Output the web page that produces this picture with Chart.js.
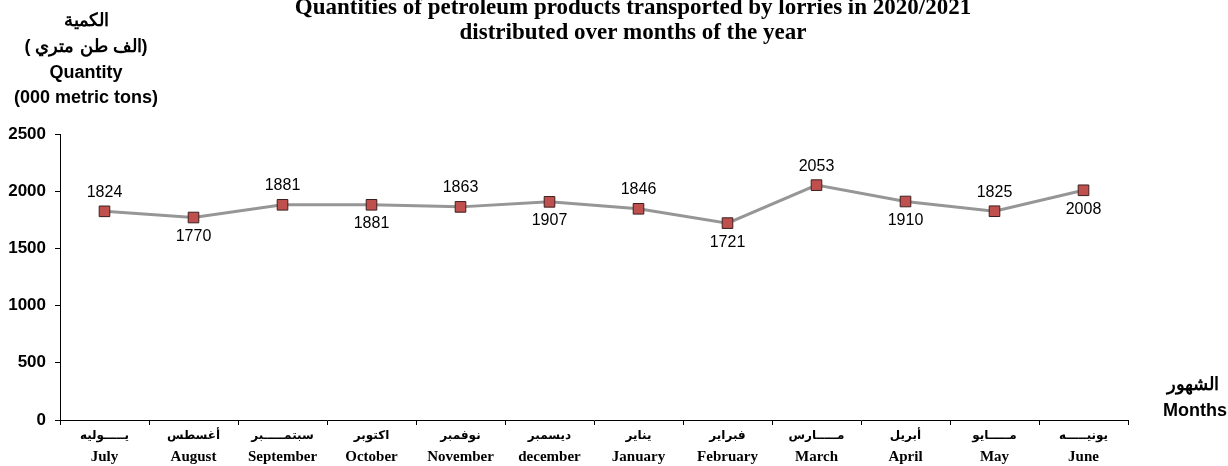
<!DOCTYPE html>
<html>
<head>
<meta charset="utf-8">
<script src="https://cdn.jsdelivr.net/npm/chart.js@4.4.1/dist/chart.umd.min.js"></script>
<style>
  html, body { margin: 0; padding: 0; background: #fff; }
  #wrap { width: 1228px; height: 466px; }
</style>
</head>
<body>
<div id="wrap"><canvas id="chart" width="1228" height="466"></canvas></div>
<script>
// Datos del gráfico
const monthsEn = ['July', 'August', 'September', 'October', 'November', 'december',
    'January', 'February', 'March', 'April', 'May', 'June'];
const monthsAr = ['يـــــوليه', 'أغسطس', 'سبتمـــــبر', 'اكتوبر', 'نوفمبر', 'ديسمبر',
    'يناير', 'فبراير', 'مـــــارس', 'أبريل', 'مـــــايو', 'يونيـــــه'];
const quantities = [1824, 1770, 1881, 1881, 1863, 1907, 1846, 1721, 2053, 1910, 1825, 2008];
const labelAbove = [true, false, true, false, true, false, true, false, true, false, true, false];
const yTicks = [0, 500, 1000, 1500, 2000, 2500];

const titleLines = ['Quantities of petroleum products transported by lorries in 2020/2021',
    'distributed over months of the year'];
const yTitleLines = ['الكمية', '( الف طن متري)', 'Quantity', '(000 metric tons)'];
const xTitleLines = ['الشهور', 'Months'];

// Textos extra: títulos, etiquetas de meses y valores
const textPlugin = {
    id: 'texts',
    afterDraw(chart) {
        const ctx = chart.ctx;
        const x = chart.scales.x;
        const meta = chart.getDatasetMeta(0);
        ctx.save();
        ctx.fillStyle = '#000';
        ctx.textAlign = 'center';
        ctx.textBaseline = 'middle';

        ctx.font = 'bold 23px "Liberation Serif"';
        ctx.fillText(titleLines[0], 633, 8);
        ctx.fillText(titleLines[1], 633, 33);

        ctx.font = 'bold 18px "Liberation Sans"';
        const yt = [21, 47, 73, 98];
        yTitleLines.forEach((t, i) => ctx.fillText(t, 86, yt[i]));
        ctx.fillText(xTitleLines[0], 1193, 385);
        ctx.fillText(xTitleLines[1], 1195, 411);

        monthsEn.forEach((m, i) => {
            const px = x.getPixelForValue(i);
            ctx.font = 'bold 12px "DejaVu Sans"';
            ctx.fillText(monthsAr[i], px, 436);
            ctx.font = 'bold 15px "Liberation Serif"';
            ctx.fillText(m, px, 457);
        });

        ctx.font = '16px "Liberation Sans"';
        meta.data.forEach((pt, i) => {
            const dy = labelAbove[i] ? -19 : 19;
            ctx.fillText(String(quantities[i]), pt.x, pt.y + dy);
        });
        ctx.restore();
    }
};

new Chart(document.getElementById('chart').getContext('2d'), {
    type: 'line',
    data: {
        labels: monthsEn,
        datasets: [{
            data: quantities,
            borderColor: '#969696',
            borderWidth: 3,
            tension: 0,
            pointStyle: 'rect',
            pointRadius: 7.5,
            pointHoverRadius: 7.5,
            pointBackgroundColor: '#c0504d',
            pointBorderColor: '#3b1f1f',
            pointBorderWidth: 1
        }]
    },
    options: {
        responsive: false,
        animation: false,
        events: [],
        layout: { padding: { top: 134, right: 100, left: 0, bottom: 0 } },
        scales: {
            x: {
                offset: true,
                grid: { offset: true, drawOnChartArea: false, tickLength: 5, color: '#000' },
                border: { color: '#000', width: 1 },
                ticks: { display: false },
                afterFit(scale) { scale.height = 46; }
            },
            y: {
                min: 0,
                max: 2500,
                afterBuildTicks(scale) { scale.ticks = yTicks.map(v => ({ value: v })); },
                grid: { drawOnChartArea: false, tickLength: 5, color: '#000' },
                border: { color: '#000', width: 1 },
                ticks: {
                    color: '#000',
                    padding: 9,
                    font: { family: 'Liberation Sans', size: 17, weight: 'bold' },
                    callback: v => String(v)
                },
                afterFit(scale) { scale.width = 60; }
            }
        },
        plugins: {
            legend: { display: false },
            tooltip: { enabled: false }
        }
    },
    plugins: [textPlugin]
});
</script>
</body>
</html>
